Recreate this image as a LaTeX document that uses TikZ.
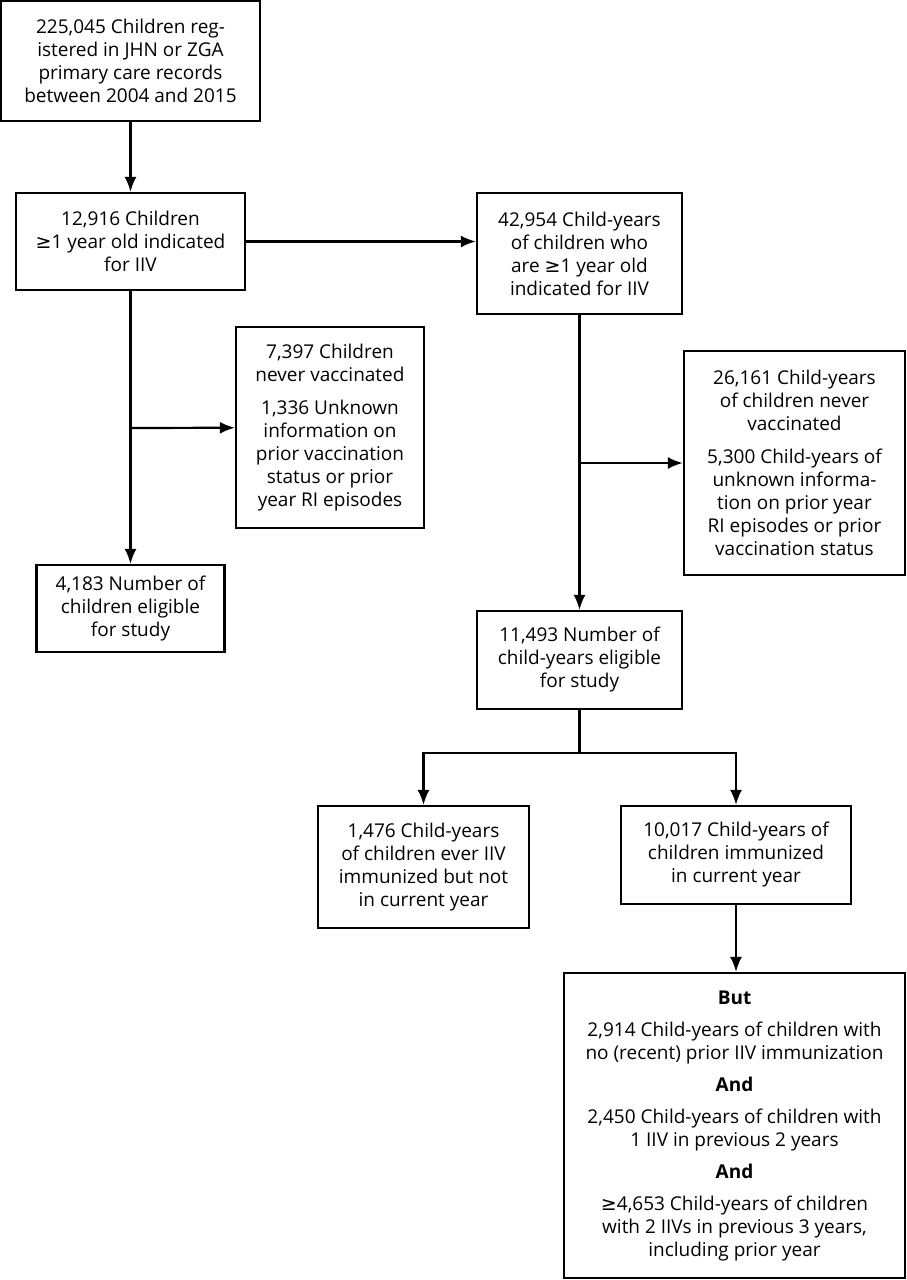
\documentclass[tikz,border=0pt]{standalone}
\usepackage{fontspec}
\setmainfont{Open Sans}
\newfontfamily\symfont{DejaVu Sans}
\newcommand{\mygeq}{{\symfont ≥}}
\usetikzlibrary{arrows.meta}
\begin{document}
\begin{tikzpicture}[x=1pt,y=-1pt,
  box/.style={draw,line width=2.2pt,align=center,inner sep=0pt,font=\fontsize{19}{23}\selectfont},
  conn/.style={line width=2.2pt},
  arr/.style={conn,-{Latex[length=15pt,width=12pt]}}]
\useasboundingbox (0,0) rectangle (907,1280);
\fill[white] (0,0) rectangle (907,1280);
\node[box,minimum width=259pt,minimum height=120pt] (b1) at (130.5,61) {225,045 Children reg-\\istered in JHN or ZGA\\primary care records\\between 2004 and 2015};
\node[box,minimum width=229pt,minimum height=97pt] (b2) at (130.5,241.5) {12,916 Children\\\mygeq1 year old indicated\\for IIV};
\node[box,minimum width=205pt,minimum height=121pt] (b3) at (579.5,253.5) {42,954 Child-years\\of children who\\are \mygeq1 year old\\indicated for IIV};
\node[box,minimum width=188pt,minimum height=201pt] (b4) at (330,427.5) {7,397 Children\\never vaccinated\\[10pt]1,336 Unknown\\information on\\prior vaccination\\status or prior\\year RI episodes};
\node[box,minimum width=221pt,minimum height=224pt] (b5) at (794.5,463) {26,161 Child-years\\of children never\\vaccinated\\[10pt]5,300 Child-years of\\unknown informa-\\tion on prior year\\RI episodes or prior\\vaccination status};
\node[box,minimum width=188pt,minimum height=87pt] (b10) at (130.5,608.5) {4,183 Number of\\children eligible\\for study};
\node[box,minimum width=205pt,minimum height=98pt] (b6) at (579.5,660) {11,493 Number of\\child-years eligible\\for study};
\node[box,minimum width=211pt,minimum height=122pt] (b7) at (423.5,867) {1,476 Child-years\\of children ever IIV\\immunized but not\\in current year};
\node[box,minimum width=230pt,minimum height=98pt] (b8) at (736,855) {10,017 Child-years of\\children immunized\\in current year};
\node[box,minimum width=341pt,minimum height=305pt] (b9) at (734.5,1125.5) {\textbf{But}\\[9pt]2,914 Child-years of children with\\no (recent) prior IIV immunization\\[9pt]\textbf{And}\\[9pt]2,450 Child-years of children with\\1 IIV in previous 2 years\\[9pt]\textbf{And}\\[9pt]\mygeq4,653 Child-years of children\\with 2 IIVs in previous 3 years,\\including prior year};
\coordinate (j1) at (130.5,428);
\coordinate (j2) at (579.5,463);
\coordinate (j3) at (579.5,753);
\draw[arr] (b1) -- (b2);
\draw[arr] (b2.east) -- (b2.east -| b3.west);
\draw[arr] (b2) -- (b10);
\draw[arr] (j1) -- (b4);
\draw[arr] (b3) -- (b6);
\draw[arr] (j2) -- (b5);
\draw[conn] (b6) -- (j3);
\draw[arr] (j3) -| (b7);
\draw[arr] (j3) -| (b8);
\draw[arr] (b8.south) -- (b8.south |- b9.north);
\end{tikzpicture}
\end{document}
